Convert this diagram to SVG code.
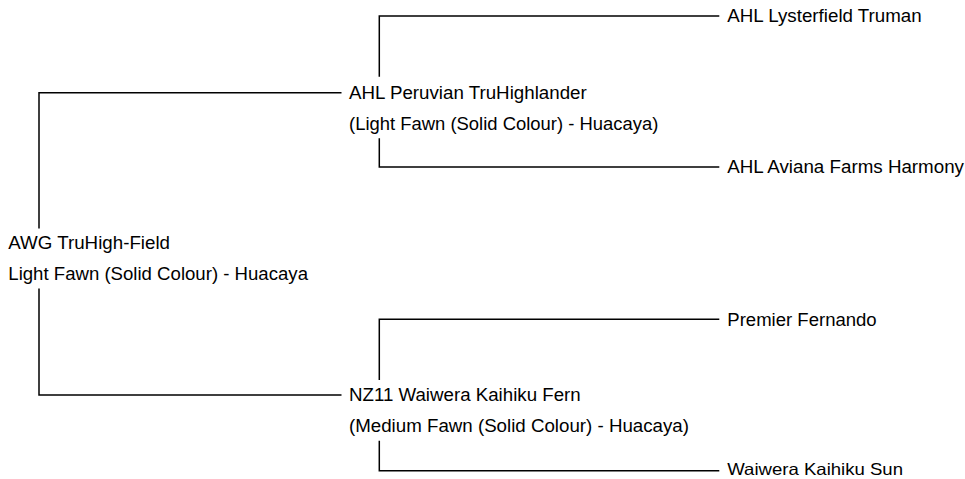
<svg xmlns="http://www.w3.org/2000/svg" width="965" height="479" viewBox="0 0 965 479">
<style>
.c{fill:none;stroke:#000;stroke-width:1.5}
text{font-family:"Liberation Sans",Arial,sans-serif;font-size:17.5px;fill:#000}
</style>
<rect width="965" height="479" fill="#fff"/>
<g id="connectors">
<path class="c" d="M39,228.5 V92.7 H341.5"/>
<path class="c" d="M39,288.5 V395 H341.5"/>
<path class="c" d="M379.3,76.7 V16 H719.3"/>
<path class="c" d="M379.3,138.3 V167 H719.3"/>
<path class="c" d="M379.3,380 V319.3 H719.3"/>
<path class="c" d="M379.3,440.7 V470.7 H719.3"/>
</g>
<g id="root">
<text x="8.3" y="248.5" textLength="161.7" lengthAdjust="spacingAndGlyphs">AWG TruHigh-Field</text>
<text x="8.3" y="280" textLength="299.7" lengthAdjust="spacingAndGlyphs">Light Fawn (Solid Colour) - Huacaya</text>
</g>
<g id="sire">
<text x="349" y="98.5" textLength="237.7" lengthAdjust="spacingAndGlyphs">AHL Peruvian TruHighlander</text>
<text x="349" y="129.5" textLength="309.3" lengthAdjust="spacingAndGlyphs">(Light Fawn (Solid Colour) - Huacaya)</text>
</g>
<g id="dam">
<text x="349" y="401.3" textLength="231.7" lengthAdjust="spacingAndGlyphs">NZ11 Waiwera Kaihiku Fern</text>
<text x="349" y="432" textLength="340" lengthAdjust="spacingAndGlyphs">(Medium Fawn (Solid Colour) - Huacaya)</text>
</g>
<g id="ss">
<text x="727.3" y="22.2" textLength="194.4" lengthAdjust="spacingAndGlyphs">AHL Lysterfield Truman</text>
</g>
<g id="sd">
<text x="727.3" y="173" textLength="236.7" lengthAdjust="spacingAndGlyphs">AHL Aviana Farms Harmony</text>
</g>
<g id="ds">
<text x="727.3" y="325.5" textLength="149.4" lengthAdjust="spacingAndGlyphs">Premier Fernando</text>
</g>
<g id="dd">
<text x="727.3" y="475.3" style="font-size:16.5px" textLength="175.7" lengthAdjust="spacingAndGlyphs">Waiwera Kaihiku Sun</text>
</g>
</svg>
